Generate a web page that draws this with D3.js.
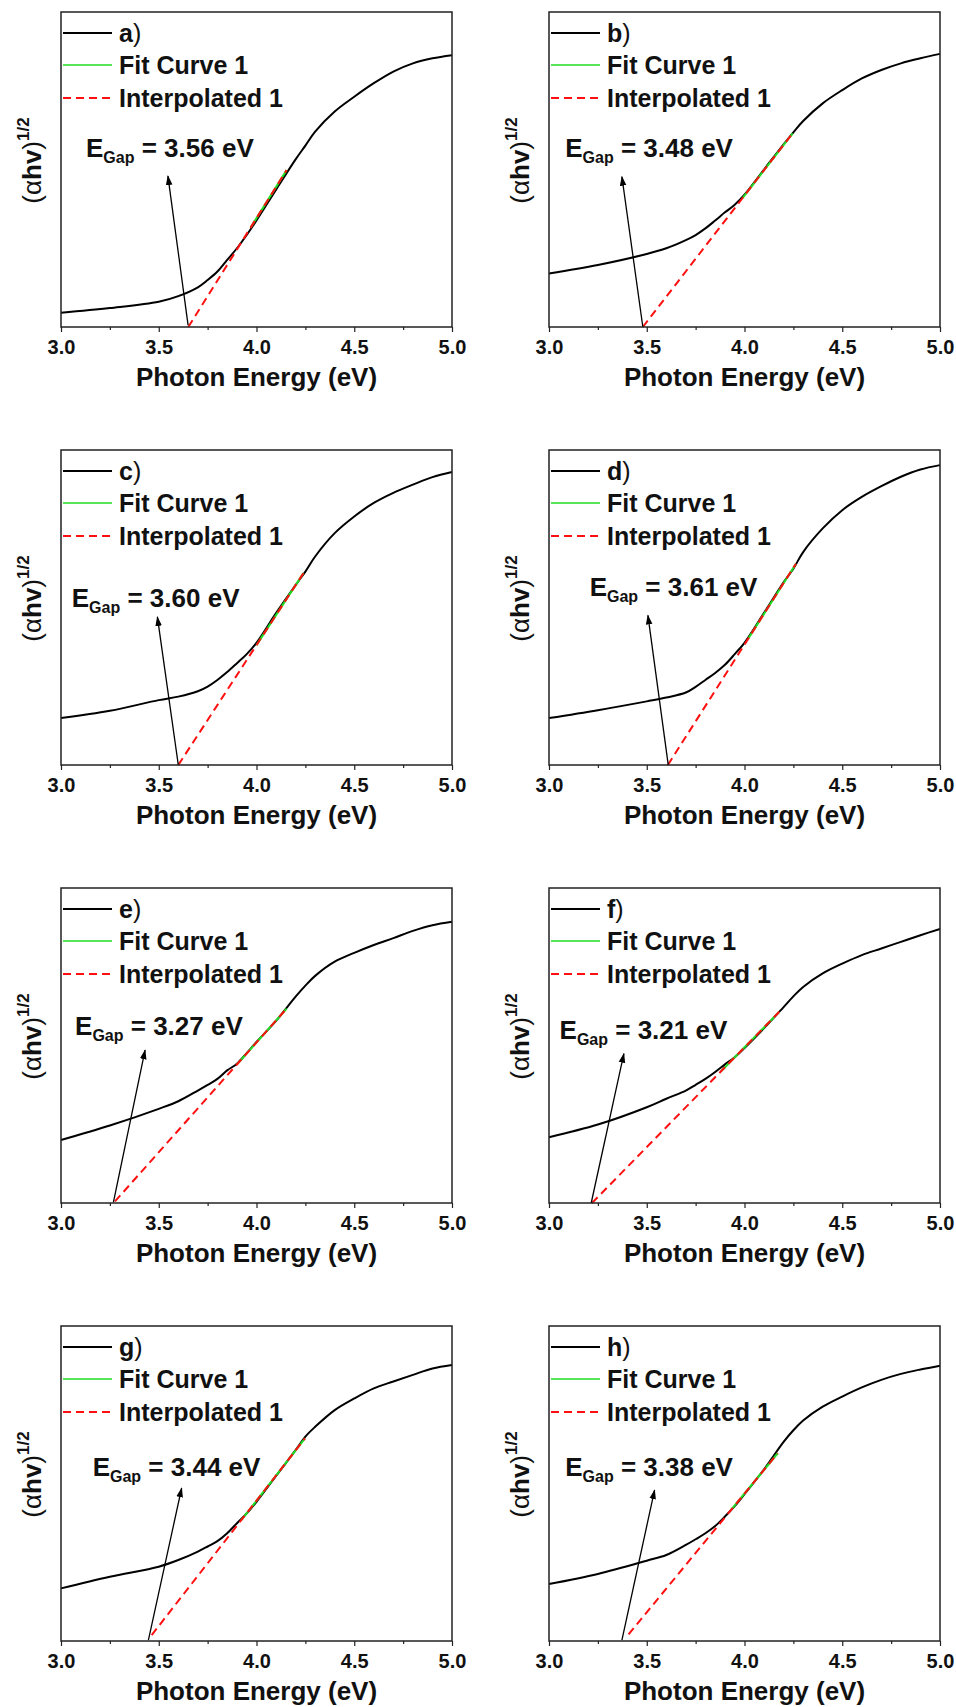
<!DOCTYPE html>
<html>
<head>
<meta charset="utf-8">
<script src="https://cdn.jsdelivr.net/npm/d3@7"></script>
<style>
  body { margin: 0; background: #fff; }
  svg { display: block; font-family: Arial, "Liberation Sans", sans-serif; }
</style>
</head>
<body>
<svg width="956" height="1707"></svg>
<script>
// panel letters and band gap labels
const panelIds = ["a", "b", "c", "d", "e", "f", "g", "h"];
const gapLabels = ["3.56", "3.48", "3.60", "3.61", "3.27", "3.21", "3.44", "3.38"];

// photon energy grid (eV) shared by all curves
const energy = [3.0, 3.25, 3.5, 3.6, 3.7, 3.75, 3.8, 3.85, 3.9, 3.95, 4.0, 4.1, 4.2, 4.25, 4.3, 4.4, 4.5, 4.6, 4.7, 4.8, 4.9, 5.0];

// (alpha h v)^1/2, arbitrary units (0 = bottom of frame, 100 = top)
const taucA = [4.5, 6.0, 8.0, 9.8, 12.6, 14.9, 17.6, 21.3, 25.0, 29.2, 33.8, 43.6, 53.2, 57.6, 62.0, 68.4, 73.1, 77.4, 81.1, 83.7, 85.3, 86.3];
const taucB = [17.0, 19.7, 23.2, 25.0, 27.6, 29.2, 31.3, 33.8, 36.4, 38.8, 42.0, 50.0, 58.0, 61.8, 65.4, 71.0, 75.2, 78.9, 81.6, 83.7, 85.3, 86.7];
const taucC = [14.9, 17.2, 20.6, 21.7, 23.4, 24.9, 27.0, 29.5, 32.3, 35.2, 38.8, 48.2, 57.1, 61.4, 66.2, 73.6, 78.9, 83.2, 86.4, 89.0, 91.4, 93.0];
const taucD = [14.9, 17.4, 20.2, 21.4, 23.0, 24.8, 27.0, 29.2, 31.8, 35.2, 38.8, 48.3, 58.0, 62.3, 67.6, 75.1, 80.9, 85.1, 88.5, 91.5, 93.8, 95.2];
const taucE = [20.0, 24.6, 29.9, 32.3, 35.7, 37.5, 39.4, 42.1, 44.2, 47.6, 51.1, 57.8, 65.5, 69.0, 72.1, 76.6, 79.4, 81.9, 84.1, 86.4, 88.2, 89.3];
const taucF = [20.9, 24.9, 30.4, 33.1, 35.7, 37.5, 39.4, 41.6, 44.0, 46.3, 49.2, 55.5, 62.2, 65.6, 68.6, 72.9, 76.0, 78.7, 80.8, 82.9, 85.0, 87.0];
const taucG = [16.7, 20.4, 23.6, 25.7, 28.4, 30.0, 31.7, 34.2, 37.4, 40.5, 44.2, 52.4, 60.6, 64.9, 68.0, 73.3, 77.0, 80.2, 82.4, 84.5, 86.5, 87.6];
const taucH = [18.1, 21.3, 25.5, 27.3, 30.5, 32.3, 34.2, 36.5, 39.5, 42.8, 46.6, 54.5, 63.2, 66.9, 70.0, 74.4, 77.6, 80.5, 82.9, 84.8, 86.2, 87.4];
const tauc = [taucA, taucB, taucC, taucD, taucE, taucF, taucG, taucH];

// extrapolated straight line: start and end [energy, value]
const lineStart = [[3.651, 0], [3.48, 0], [3.60, 0], [3.608, 0], [3.276, 0.5], [3.22, 0], [3.464, 1.9], [3.407, 2.1]];
const lineEnd = [[4.154, 49.8], [4.246, 61.5], [4.24, 60.9], [4.263, 63.9], [4.154, 61.7], [4.178, 60.7], [4.248, 64.3], [4.17, 59.6]];
// energy where the linear fit begins
const fitStart = [3.97, 3.99, 4.0, 4.02, 3.9, 3.88, 3.92, 3.93];

// annotation arrow: tail and head [energy, value]
const arrowTail = [[3.65, 0.6], [3.48, 0], [3.60, 0], [3.61, 0], [3.268, 0.2], [3.216, 0], [3.447, 0.3], [3.373, 0.3]];
const arrowHead = [[3.547, 47.9], [3.373, 47.7], [3.493, 47.0], [3.506, 47.5], [3.43, 48.5], [3.383, 47.4], [3.617, 48.5], [3.54, 47.9]];
// E_Gap label anchor [energy, value]
const labelAt = [[3.128, 54], [3.083, 54], [3.055, 50.2], [3.208, 53.8], [3.072, 53.2], [3.054, 52.2], [3.162, 52.4], [3.083, 52.4]];

const xMajor = [3.0, 3.5, 4.0, 4.5, 5.0];
const xMinor = [3.25, 3.75, 4.25, 4.75];

const svg = d3.select("svg");
const colLeft = [61, 549];
const rowTop = [12, 450, 888, 1326];
const w = 391, h = 315;

svg.append("defs").append("marker")
    .attr("id", "head")
    .attr("viewBox", "0 -4 10 8")
    .attr("refX", 9).attr("refY", 0)
    .attr("markerUnits", "userSpaceOnUse")
    .attr("markerWidth", 10).attr("markerHeight", 8)
    .attr("orient", "auto")
    .append("path").attr("d", "M0,-3.3L10,0L0,3.3Z").attr("fill", "#000");

const x = d3.scaleLinear().domain([3, 5]).range([0, w]);
const y = d3.scaleLinear().domain([0, 100]).range([h, 0]);

const curve = d3.line()
    .x(d => x(d[0]))
    .y(d => y(d[1]))
    .curve(d3.curveCatmullRom.alpha(0.5));

panelIds.forEach((id, i) => {
    const g = svg.append("g")
        .attr("transform", `translate(${colLeft[i % 2]},${rowTop[Math.floor(i / 2)]})`);

    // ticks
    g.append("g")
        .attr("transform", `translate(0,${h})`)
        .call(d3.axisBottom(x).tickValues(xMinor).tickSize(3).tickFormat(""))
        .call(a => a.select(".domain").remove())
        .selectAll("line").attr("stroke", "#222").attr("stroke-width", 1.2);

    const ax = g.append("g")
        .attr("transform", `translate(0,${h})`)
        .call(d3.axisBottom(x).tickValues(xMajor).tickSize(5).tickFormat(d3.format(".1f")));
    ax.select(".domain").remove();
    ax.selectAll("line").attr("stroke", "#222").attr("stroke-width", 1.2);
    ax.selectAll("text")
        .attr("y", 27).attr("dy", null)
        .attr("font-size", 20).attr("font-weight", "bold")
        .attr("font-family", "Arial, 'Liberation Sans', sans-serif")
        .attr("fill", "#111");

    g.append("text")
        .attr("x", w / 2).attr("y", h + 59)
        .attr("text-anchor", "middle")
        .attr("font-size", 26).attr("font-weight", "bold")
        .attr("fill", "#111")
        .text("Photon Energy (eV)");

    // y title
    const yt = g.append("text")
        .attr("transform", `translate(-20,${h / 2 - 9}) rotate(-90)`)
        .attr("text-anchor", "middle")
        .attr("font-size", 26).attr("fill", "#111");
    yt.append("tspan").text("(α");
    yt.append("tspan").attr("font-weight", "bold").text("hv");
    yt.append("tspan").text(")");
    yt.append("tspan").attr("font-size", 17).attr("font-weight", "bold").attr("dy", -12).text("1/2");

    // data curve
    const pts = energy.map((e, k) => [e, tauc[i][k]]);
    g.append("path")
        .attr("d", curve(pts))
        .attr("fill", "none").attr("stroke", "#000").attr("stroke-width", 2);

    // linear fit and its extrapolation
    const [x0, y0] = lineStart[i], [x1, y1] = lineEnd[i];
    const slope = (y1 - y0) / (x1 - x0);
    g.append("line")
        .attr("x1", x(fitStart[i])).attr("y1", y(y0 + slope * (fitStart[i] - x0)))
        .attr("x2", x(x1)).attr("y2", y(y1))
        .attr("stroke", "#22dd22").attr("stroke-width", 2);
    g.append("line")
        .attr("x1", x(x0)).attr("y1", y(y0))
        .attr("x2", x(x1)).attr("y2", y(y1))
        .attr("stroke", "#ff1010").attr("stroke-width", 2)
        .attr("stroke-dasharray", "8,5");

    // arrow and label
    g.append("line")
        .attr("x1", x(arrowTail[i][0])).attr("y1", y(arrowTail[i][1]))
        .attr("x2", x(arrowHead[i][0])).attr("y2", y(arrowHead[i][1]))
        .attr("stroke", "#000").attr("stroke-width", 1.3)
        .attr("marker-end", "url(#head)");

    const lab = g.append("text")
        .attr("x", x(labelAt[i][0])).attr("y", y(labelAt[i][1]))
        .attr("font-size", 26).attr("font-weight", "bold").attr("fill", "#111");
    lab.append("tspan").text("E");
    lab.append("tspan").attr("font-size", 16).attr("dy", 6).text("Gap");
    lab.append("tspan").attr("dy", -6).text(" = " + gapLabels[i] + " eV");

    // legend
    const legY = [21, 53, 86];
    g.append("line").attr("x1", 2).attr("x2", 51).attr("y1", legY[0]).attr("y2", legY[0])
        .attr("stroke", "#000").attr("stroke-width", 2);
    g.append("line").attr("x1", 2).attr("x2", 51).attr("y1", legY[1]).attr("y2", legY[1])
        .attr("stroke", "#22dd22").attr("stroke-width", 1.5);
    g.append("line").attr("x1", 2).attr("x2", 51).attr("y1", legY[2]).attr("y2", legY[2])
        .attr("stroke", "#ff1010").attr("stroke-width", 2).attr("stroke-dasharray", "8,5");

    const legText = ["", "Fit Curve 1", "Interpolated 1"];
    legText.forEach((t, k) => {
        const tx = g.append("text")
            .attr("x", 58).attr("y", legY[k]).attr("dy", "0.36em")
            .attr("font-size", 25).attr("font-weight", "bold").attr("fill", "#111");
        if (k === 0) {
            tx.append("tspan").text(id);
            tx.append("tspan").attr("font-weight", "normal").text(")");
        } else {
            tx.text(t);
        }
    });

    // frame
    g.append("rect")
        .attr("width", w).attr("height", h)
        .attr("fill", "none").attr("stroke", "#222").attr("stroke-width", 1.5);
});
</script>
</body>
</html>
